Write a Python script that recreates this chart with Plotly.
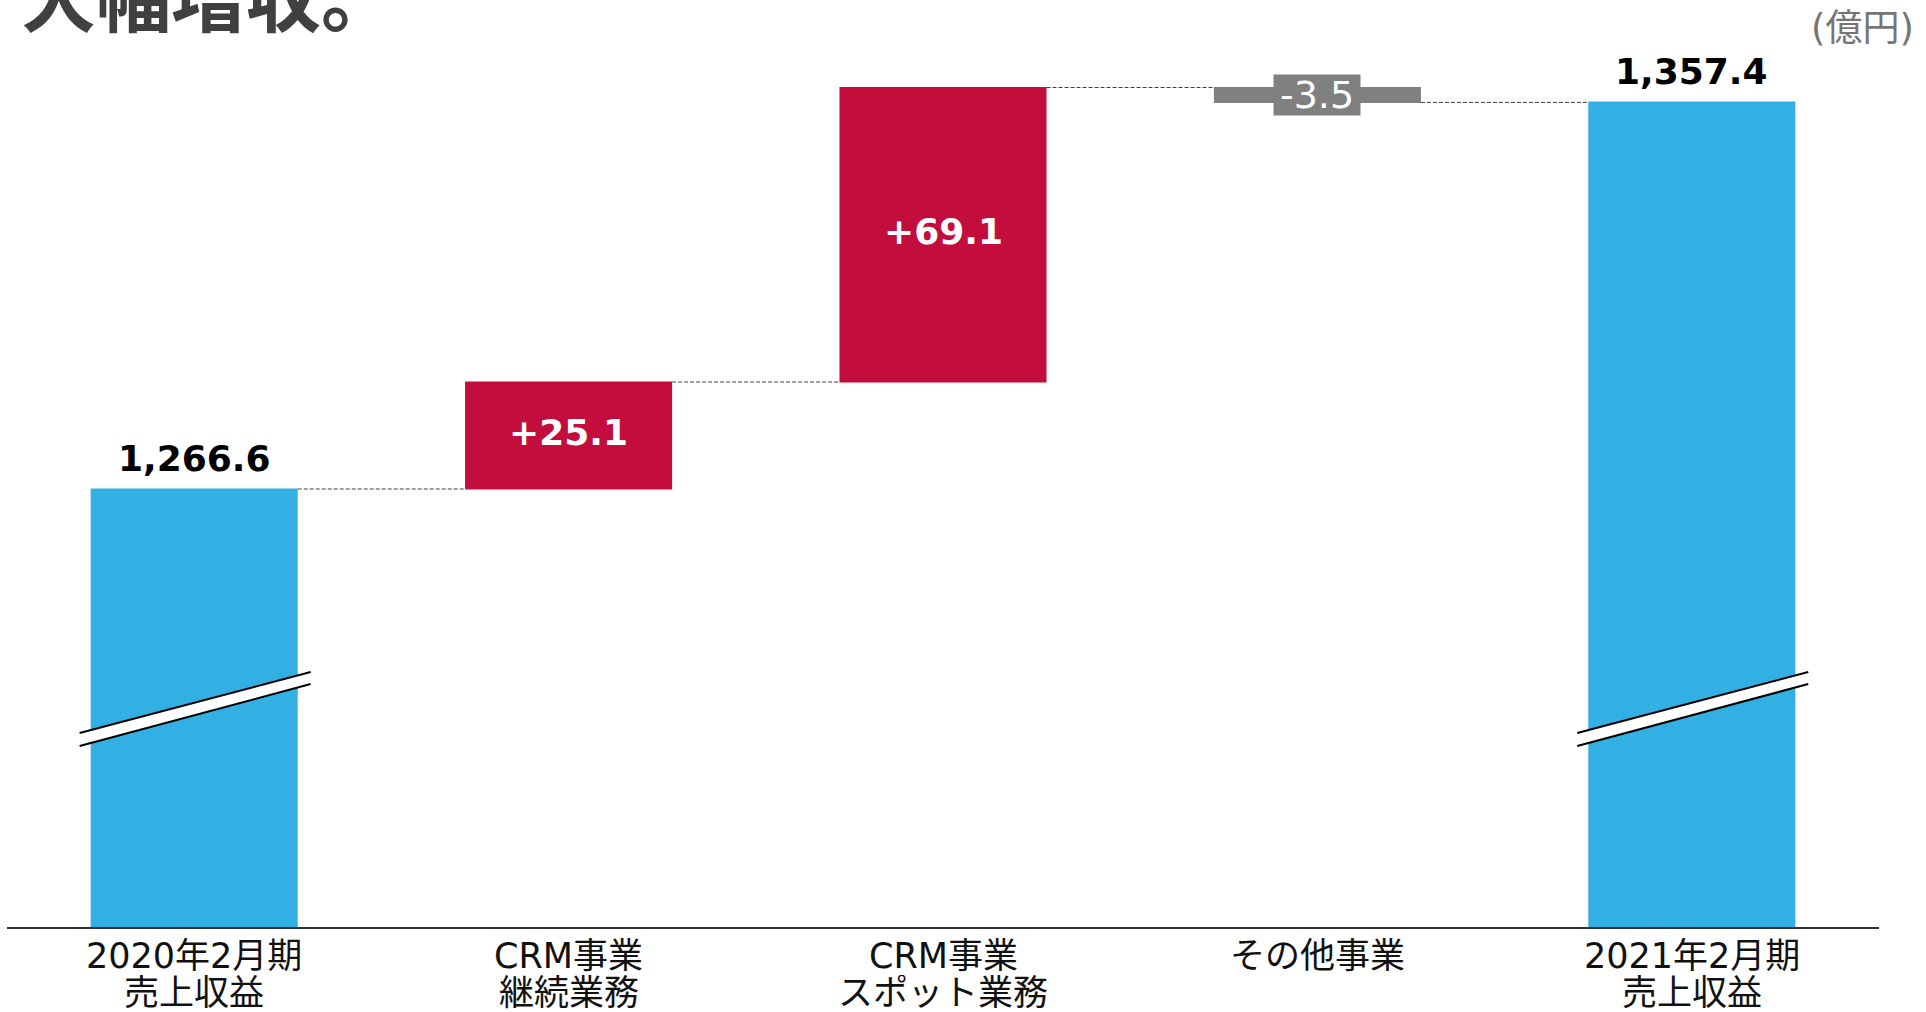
import plotly.graph_objects as go

# ---- data ----
categories = ["2020年2月期\n売上収益", "CRM事業\n継続業務", "CRM事業\nスポット業務", "その他事業", "2021年2月期\n売上収益"]
measures = ["absolute", "relative", "relative", "relative", "absolute"]
values = [1266.6, 25.1, 69.1, -3.5, 1357.4]
value_labels = ["1,266.6", "+25.1", "+69.1", "-3.5", "1,357.4"]
title_text = "大幅増収。"
unit_text = "(億円)"

# ---- styles ----
BLUE = "#33B0E3"
RED = "#C30D3C"
GRAY = "#808080"
LATIN = "DejaVu Sans, Noto Sans CJK JP"
CJK = "DejaVu Sans, Noto Sans CJK JP"

Y_MIN, Y_MAX = 1163.83, 1381.33
xs = list(range(len(categories)))

fig = go.Figure()
fig.add_trace(go.Waterfall(
    x=xs, y=values, measure=measures,
    increasing=dict(marker=dict(color=RED)),
    decreasing=dict(marker=dict(color=GRAY)),
    totals=dict(marker=dict(color=BLUE)),
    connector=dict(mode="between", line=dict(color="#404040", width=1, dash="4px,2px")),
    hoverinfo="skip",
))

annotations = []
shapes = []

# compute bar extents from data
running = 0.0
for i, (m, v, lab) in enumerate(zip(measures, values, value_labels)):
    if m == "absolute":
        start, end = 0.0, v
        running = v
    else:
        start, end = running, running + v
        running = end
    if m == "absolute":
        annotations.append(dict(x=i, y=end, xref="x", yref="y", text=lab, showarrow=False,
                                yanchor="bottom", yshift=8,
                                font=dict(family=LATIN, size=36, color="#000000", weight="bold")))
    elif v >= 0:
        annotations.append(dict(x=i, y=(start + end) / 2, xref="x", yref="y", text=lab, showarrow=False,
                                yanchor="middle", yshift=3,
                                font=dict(family=LATIN, size=36, color="#FFFFFF", weight="bold")))
    else:
        annotations.append(dict(x=i, y=(start + end) / 2, xref="x", yref="y", text=lab, showarrow=False,
                                yanchor="middle", xanchor="center", width=86, height=40, borderpad=0,
                                bgcolor=GRAY, valign="middle",
                                font=dict(family=LATIN, size=38, color="#FFFFFF")))

# category labels (two lines each)
for i, cat in enumerate(categories):
    lines = cat.split("\n")
    for j, ln in enumerate(lines):
        annotations.append(dict(x=i, y=0, xref="x", yref="paper", text=ln, showarrow=False,
                                yanchor="middle", yshift=-29 - 37 * j, height=36, borderpad=0,
                                valign="middle",
                                font=dict(family=CJK, size=35, color="#111111")))

# title (cut off at top, as in the original slide) and unit
annotations.append(dict(x=0, y=1, xref="paper", yref="paper", text=title_text, showarrow=False,
                        xanchor="left", yanchor="bottom", xshift=12, yshift=-50,
                        font=dict(family="Noto Sans CJK JP", size=75, color="#404040", weight="bold")))
annotations.append(dict(x=1, y=1, xref="paper", yref="paper", text=unit_text, showarrow=False,
                        xanchor="right", yanchor="middle", xshift=37, yshift=-28,
                        font=dict(family=CJK, size=37, color="#757575")))

# axis-break marks on the two total bars
for i, m in enumerate(measures):
    if m != "absolute":
        continue
    x0, x1 = i - 0.306, i + 0.311
    yt0, yb0, yt1, yb1 = 1209.34, 1206.29, 1223.66, 1220.84
    shapes.append(dict(type="path", xref="x", yref="y",
                       path=f"M {x0},{yt0} L {x1},{yt1} L {x1},{yb1} L {x0},{yb0} Z",
                       fillcolor="white", line=dict(width=0), layer="above"))
    shapes.append(dict(type="line", xref="x", yref="y", x0=x0, y0=yt0, x1=x1, y1=yt1,
                       line=dict(color="black", width=2), layer="above"))
    shapes.append(dict(type="line", xref="x", yref="y", x0=x0, y0=yb0, x1=x1, y1=yb1,
                       line=dict(color="black", width=2), layer="above"))

fig.update_layout(
    width=1926, height=1012,
    margin=dict(l=7, r=47, t=0, b=85),
    paper_bgcolor="white", plot_bgcolor="white",
    showlegend=False,
    waterfallgap=0.447,
    xaxis=dict(range=[-0.5, 4.5], showticklabels=False, showgrid=False, zeroline=False,
               showline=True, linecolor="#333333", linewidth=2, fixedrange=True),
    yaxis=dict(range=[Y_MIN, Y_MAX], visible=False, showgrid=False, zeroline=False),
    annotations=annotations,
    shapes=shapes,
)

fig.write_html("out.html")
